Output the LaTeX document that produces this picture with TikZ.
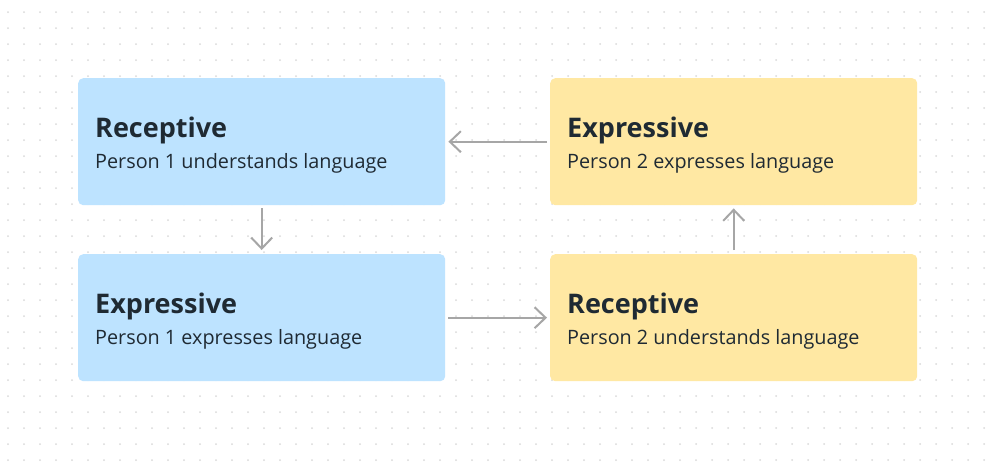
\documentclass[tikz,border=0pt]{standalone}
\usepackage{fontspec}
\setmainfont{Open Sans}
\usetikzlibrary{arrows.meta}
\definecolor{bluebox}{HTML}{BDE3FF}
\definecolor{yellowbox}{HTML}{FFE8A3}
\definecolor{txt}{HTML}{1F2A33}
\definecolor{arr}{HTML}{A6A6A6}
\definecolor{dotc}{HTML}{D9D9D9}
\tikzset{
  card/.style={rounded corners=5pt, minimum width=367pt, minimum height=127pt, inner sep=0pt, draw=none},
  ttl/.style={anchor=base west, font=\fontsize{27}{30}\selectfont\bfseries, text=txt, inner sep=0pt},
  sub/.style={anchor=base west, font=\fontsize{19.8}{23}\selectfont, text=txt, inner sep=0pt},
  flow/.style={draw=arr, line width=2pt, -{Straight Barb[length=11pt,width=21pt,line width=2pt]}}
}
\begin{document}
\begin{tikzpicture}[x=1pt,y=-1pt]
\useasboundingbox (0,0) rectangle (997,461);
\fill[white] (0,0) rectangle (997,461);
\foreach \i in {0,...,61}{\foreach \j in {0,...,28}{\fill[dotc] (8+16*\i,12+16*\j) circle (1pt);}}
\node[card, fill=bluebox, anchor=north west] (r1) at (78,78) {};
\node[card, fill=bluebox, anchor=north west] (e1) at (78,254) {};
\node[card, fill=yellowbox, anchor=north west] (e2) at (550,78) {};
\node[card, fill=yellowbox, anchor=north west] (r2) at (550,254) {};
\node[ttl] (r1t) at (95,137.5) {Receptive};
\node[sub] (r1s) at (95,168.5) {Person 1 understands language};
\node[ttl] (e1t) at (95,313.5) {Expressive};
\node[sub] (e1s) at (95,344.5) {Person 1 expresses language};
\node[ttl] (e2t) at (567,137.5) {Expressive};
\node[sub] (e2s) at (567,168.5) {Person 2 expresses language};
\node[ttl] (r2t) at (567,313.5) {Receptive};
\node[sub] (r2s) at (567,344.5) {Person 2 understands language};
\draw[flow] ([xshift=-3pt]e2.west) -- ([xshift=3pt]r1.east);
\draw[flow] ([yshift=-3pt]r1.south) -- ([yshift=4pt]e1.north);
\draw[flow] ([xshift=3pt]e1.east) -- ([xshift=-3pt]r2.west);
\draw[flow] ([yshift=4pt]r2.north) -- ([yshift=-3pt]e2.south);
\end{tikzpicture}
\end{document}
